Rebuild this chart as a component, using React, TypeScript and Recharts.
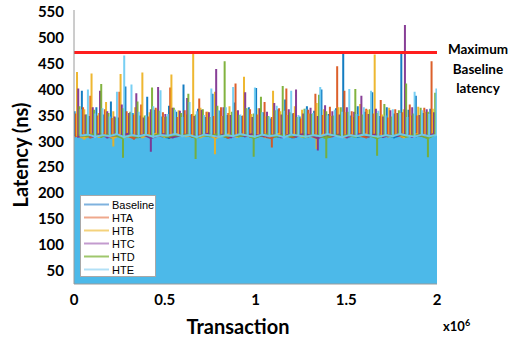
import React from "react";
import {
  ComposedChart,
  Line,
  Area,
  XAxis,
  YAxis,
  ReferenceLine,
} from "recharts";

// latency spikes (ns), one value per burst, left to right
const BASELINE_PEAKS = [
  358, 398, 349, 366, 352, 377, 346, 406, 355, 350, 386, 361, 348, 369, 357, 410, 352, 363, 347, 392,
  359, 351, 375, 349, 366, 403, 356, 344, 362, 381, 354, 348, 368, 359, 400, 353, 364, 472, 350, 368,
  357, 395, 349, 366, 354, 470, 361, 388, 355, 363,
];
const BASELINE_TROUGHS = [
  312, 309, 315, 310, 314, 308, 313, 311, 316, 309, 312, 314, 310, 307, 313, 311, 315, 309, 312, 310,
  314, 308, 313, 311, 316, 309, 312, 314, 310, 313, 308, 311, 315, 309, 312, 310, 314, 311, 313, 309,
  312, 315, 310, 313, 308, 312, 314, 310, 313, 311,
];
const HTA_PEAKS = [
  354, 366, 388, 350, 362, 345, 396, 358, 352, 371, 348, 365, 356, 404, 347, 360, 353, 383, 357, 349,
  366, 355, 412, 350, 362, 352, 376, 347, 364, 402, 355, 344, 361, 392, 351, 367, 445, 398, 358, 349,
  363, 354, 380, 346, 362, 356, 371, 350, 365, 455,
];
const HTA_TROUGHS = [
  310, 314, 308, 312, 316, 309, 313, 311, 306, 312, 315, 310, 313, 308, 312, 314, 309, 311, 315, 310,
  313, 307, 312, 314, 310, 313, 309, 288, 315, 311, 308, 313, 310, 314, 312, 309, 313, 310, 314, 311,
  308, 312, 315, 310, 313, 309, 312, 314, 310, 312,
];
const HTB_PEAKS = [
  434, 362, 431, 355, 376, 358, 430, 350, 366, 433, 356, 363, 347, 429, 360, 352, 470, 365, 357, 396,
  349, 368, 359, 425, 353, 364, 348, 398, 358, 351, 368, 361, 354, 374, 362, 349, 366, 356, 347, 372,
  361, 468, 352, 365, 355, 362, 350, 367, 357, 363,
];
const HTB_TROUGHS = [
  311, 306, 313, 309, 312, 290, 314, 310, 313, 308, 312, 315, 309, 311, 314, 310, 312, 308, 313, 275,
  311, 314, 309, 312, 310, 313, 308, 312, 315, 310, 313, 309, 311, 285, 314, 310, 312, 308, 313, 311,
  314, 309, 312, 310, 313, 308, 312, 314, 310, 313,
];
const HTC_PEAKS = [
  402, 352, 366, 398, 358, 348, 371, 355, 393, 346, 362, 405, 353, 365, 359, 384, 349, 361, 356, 440,
  366, 351, 360, 395, 347, 364, 357, 374, 352, 362, 400, 354, 365, 349, 370, 358, 352, 366, 357, 388,
  353, 363, 348, 360, 355, 525, 366, 351, 362, 356,
];
const HTC_TROUGHS = [
  309, 313, 310, 314, 308, 312, 311, 315, 309, 313, 280, 312, 314, 308, 311, 313, 309, 312, 315, 310,
  313, 308, 312, 310, 314, 311, 309, 312, 308, 313, 310, 314, 311, 282, 312, 310, 313, 308, 312, 314,
  310, 313, 309, 312, 311, 313, 309, 312, 310, 314,
];
const HTD_PEAKS = [
  368, 352, 361, 411, 355, 346, 364, 357, 377, 350, 404, 359, 348, 365, 355, 392, 352, 362, 347, 369,
  455, 357, 351, 364, 354, 386, 349, 360, 407, 356, 347, 363, 353, 390, 358, 350, 366, 357, 401, 352,
  362, 355, 372, 348, 360, 412, 354, 365, 357, 394,
];
const HTD_TROUGHS = [
  312, 310, 314, 309, 313, 311, 268, 312, 308, 313, 310, 314, 309, 312, 311, 313, 266, 312, 310, 314,
  309, 312, 310, 313, 270, 311, 314, 309, 312, 310, 313, 308, 312, 311, 267, 313, 310, 312, 309, 313,
  311, 272, 312, 310, 314, 309, 312, 311, 269, 313,
];
const HTE_PEAKS = [
  362, 400, 354, 364, 348, 396, 466, 410, 357, 350, 368, 399, 353, 361, 347, 376, 358, 351, 402, 360,
  366, 405, 352, 362, 404, 356, 348, 369, 359, 398, 351, 363, 355, 405, 350, 361, 357, 401, 353, 366,
  398, 359, 350, 362, 355, 347, 396, 360, 353, 402,
];
const HTE_TROUGHS = [
  311, 313, 309, 312, 310, 314, 308, 312, 310, 313, 309, 312, 311, 314, 310, 312, 308, 313, 311, 309,
  312, 310, 314, 311, 309, 313, 310, 312, 308, 313, 311, 309, 312, 310, 314, 311, 308, 312, 310, 313,
  311, 309, 312, 310, 314, 311, 309, 313, 310, 312,
];
// dense light-blue body below the spikes
const FLOOR = [311, 312, 310, 313, 312, 311, 313, 312, 310, 312, 311, 313, 312, 311, 310, 312, 313, 311, 312, 311, 312];

const X_TICKS = [0, 500000, 1000000, 1500000, 2000000];
const Y_TICKS = [50, 100, 150, 200, 250, 300, 350, 400, 450, 500, 550];

const SERIES = [
  { name: "Baseline", color: "#0072BD", legend: "#7FB2DE", peaks: BASELINE_PEAKS, troughs: BASELINE_TROUGHS },
  { name: "HTA", color: "#D95319", legend: "#EFA88C", peaks: HTA_PEAKS, troughs: HTA_TROUGHS },
  { name: "HTB", color: "#EDB120", legend: "#F4D27C", peaks: HTB_PEAKS, troughs: HTB_TROUGHS },
  { name: "HTC", color: "#7E2F8E", legend: "#C39BCE", peaks: HTC_PEAKS, troughs: HTC_TROUGHS },
  { name: "HTD", color: "#77AC30", legend: "#9FC76C", peaks: HTD_PEAKS, troughs: HTD_TROUGHS },
  { name: "HTE", color: "#6CCBF2", legend: "#B2E0F6", peaks: HTE_PEAKS, troughs: HTE_TROUGHS },
];

const N_TX = 2000000;
const REST = 306;
const MAX_BASELINE = Math.max(...BASELINE_PEAKS);
const FONT = "Lato, 'Open Sans', sans-serif";
const AXIS_GRAY = "#9a9a9a";

// every burst is a vertical stroke on its own slot of the transaction grid
const N_BURST = BASELINE_PEAKS.length;
const SLOT = N_TX / (N_BURST * SERIES.length);
const toSpikes = (peaks: number[], troughs: number[], k: number) => {
  const pts: { x: number; y: number }[] = [];
  for (let j = 0; j < N_BURST; j++) {
    const x = (j * SERIES.length + k + 0.5) * SLOT;
    const rest = Math.max(troughs[j], REST);
    pts.push({ x, y: rest }, { x, y: troughs[j] }, { x, y: peaks[j] }, { x, y: rest });
  }
  return pts;
};
const floorPoints = FLOOR.map((v, i) => ({ x: (i * N_TX) / (FLOOR.length - 1), y: v }));

const fmtX = (v: number) => String(v / 1000000);

export default function App() {
  return (
    <div
      style={{
        position: "absolute",
        left: 0,
        top: 0,
        width: 514,
        height: 341,
        background: "#fff",
        fontFamily: FONT,
      }}
    >
      <ComposedChart
        width={514}
        height={341}
        margin={{ top: 10, right: 77, bottom: 0, left: 0 }}
      >
        <XAxis
          type="number"
          dataKey="x"
          domain={[0, N_TX]}
          ticks={X_TICKS}
          tickFormatter={fmtX}
          allowDataOverflow
          height={57}
          stroke={AXIS_GRAY}
          tickLine={false}
          tickSize={4}
          tickMargin={6}
          tick={{ fill: "#000", fontSize: 15, fontWeight: 700, fontFamily: FONT }}
        />
        <XAxis
          xAxisId="top"
          orientation="top"
          type="number"
          dataKey="x"
          domain={[0, N_TX]}
          ticks={X_TICKS}
          height={0}
          mirror
          tick={false}
          stroke={AXIS_GRAY}
          tickSize={4}
        />
        <YAxis
          type="number"
          domain={[24, 554]}
          ticks={Y_TICKS}
          allowDataOverflow
          width={74}
          stroke={AXIS_GRAY}
          tickLine={false}
          tickSize={4}
          tickMargin={6}
          tick={{ fill: "#000", fontSize: 15, fontWeight: 700, fontFamily: FONT }}
        />
        <YAxis
          yAxisId="right"
          orientation="right"
          type="number"
          domain={[24, 554]}
          ticks={Y_TICKS}
          width={0}
          mirror
          tick={false}
          stroke={AXIS_GRAY}
          tickSize={4}
        />
        <Area
          data={floorPoints}
          dataKey="y"
          type="linear"
          stroke="none"
          fill="#4CB9E9"
          fillOpacity={1}
          isAnimationActive={false}
        />
        {SERIES.map((s, k) => (
          <Line
            key={s.name}
            data={toSpikes(s.peaks, s.troughs, k)}
            dataKey="y"
            name={s.name}
            type="linear"
            stroke={s.color}
            strokeOpacity={0.92}
            strokeWidth={2}
            dot={false}
            activeDot={false}
            isAnimationActive={false}
          />
        ))}
        <ReferenceLine y={MAX_BASELINE} stroke="#FF1E1E" strokeWidth={3} />
      </ComposedChart>

      {/* legend */}
      <div
        style={{
          position: "absolute",
          left: 80,
          top: 195,
          width: 76,
          height: 82,
          background: "#fff",
          border: "1px solid #a8a8a8",
          fontFamily: "'Liberation Sans', Arial, sans-serif",
          fontSize: 11,
          color: "#000",
          paddingTop: 2,
          boxSizing: "border-box",
        }}
      >
        {SERIES.map((s) => (
          <div key={s.name} style={{ display: "flex", alignItems: "center", height: 13 }}>
            <svg width={31} height={13} style={{ flex: "none" }}>
              <line x1={3} x2={28} y1={6.5} y2={6.5} stroke={s.legend} strokeWidth={2} />
            </svg>
            <span>{s.name}</span>
          </div>
        ))}
      </div>

      {/* annotation */}
      <div
        style={{
          position: "absolute",
          left: 440,
          top: 40,
          width: 76,
          textAlign: "center",
          fontWeight: 700,
          fontSize: 13.5,
          lineHeight: "19.5px",
          color: "#000",
        }}
      >
        Maximum
        <br />
        Baseline
        <br />
        latency
      </div>

      {/* axis titles */}
      <div
        style={{
          position: "absolute",
          left: 138,
          top: 312,
          width: 200,
          textAlign: "center",
          fontWeight: 700,
          fontSize: 20,
          lineHeight: "28px",
          color: "#000",
        }}
      >
        Transaction
      </div>
      <div
        style={{
          position: "absolute",
          left: 443,
          top: 313,
          fontWeight: 700,
          fontSize: 13,
          lineHeight: "20px",
          color: "#000",
        }}
      >
        x10<sup style={{ fontSize: 9 }}>6</sup>
      </div>
      <div
        style={{
          position: "absolute",
          left: 20 - 80,
          top: 155 - 14,
          width: 160,
          height: 28,
          textAlign: "center",
          fontWeight: 700,
          fontSize: 20,
          lineHeight: "28px",
          color: "#000",
          transform: "rotate(-90deg)",
        }}
      >
        Latency (ns)
      </div>
    </div>
  );
}
